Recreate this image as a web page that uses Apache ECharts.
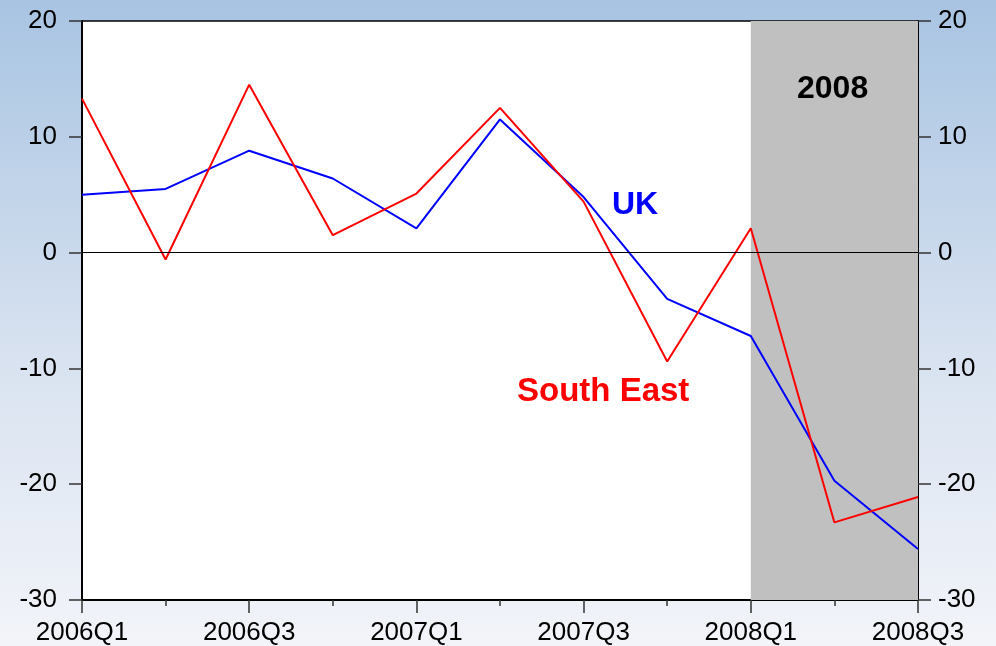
<!DOCTYPE html>
<html>
<head>
<meta charset="utf-8">
<script src="https://cdn.jsdelivr.net/npm/echarts@6/dist/echarts.min.js"></script>
<style>
html,body{margin:0;padding:0;}
#chart{width:996px;height:646px;}
</style>
</head>
<body>
<div id="chart"></div>
<script>
const categories = ['2006Q1','2006Q2','2006Q3','2006Q4','2007Q1','2007Q2','2007Q3','2007Q4','2008Q1','2008Q2','2008Q3'];
const ukValues = [5.0, 5.5, 8.8, 6.4, 2.1, 11.5, 4.8, -4.0, -7.2, -19.7, -25.6];
const southEastValues = [13.3, -0.6, 14.5, 1.5, 5.1, 12.5, 4.4, -9.4, 2.1, -23.3, -21.1];
const shadeStart = '2008Q1';
const shadeEnd = '2008Q3';
const yTicks = { min: -30, max: 20, interval: 10 };

const chart = echarts.init(document.getElementById('chart'), null, { renderer: 'canvas' });
const FONT = 'Liberation Sans, Arial, sans-serif';

const option = {
  backgroundColor: {
    type: 'linear', x: 0, y: 0, x2: 0, y2: 1,
    colorStops: [
      { offset: 0, color: '#a8c4e2' },
      { offset: 0.55, color: '#d8e2f0' },
      { offset: 1, color: '#f2f4f9' }
    ]
  },
  animation: false,
  grid: {
    left: 82, right: 78, top: 21, bottom: 46,
    show: true, backgroundColor: '#ffffff', borderColor: '#000', borderWidth: 1.5
  },
  xAxis: [
    {
      type: 'category', data: categories, boundaryGap: false, position: 'bottom',
      axisLine: { show: true, onZero: false, lineStyle: { color: '#000', width: 2 } },
      axisTick: { show: true, interval: 0, length: 6, lineStyle: { color: '#333', width: 1.5 } },
      axisLabel: { show: false },
      splitLine: { show: false }
    },
    {
      type: 'category', data: categories, boundaryGap: false, position: 'bottom',
      axisLine: { show: false, onZero: false },
      axisTick: { show: true, interval: 1, length: 13, lineStyle: { color: '#333', width: 1.5 } },
      axisLabel: { show: true, interval: 1, color: '#000', fontSize: 26, fontFamily: FONT, margin: 20 },
      splitLine: { show: false }
    }
  ],
  yAxis: [
    {
      type: 'value', position: 'left', min: yTicks.min, max: yTicks.max, interval: yTicks.interval,
      axisLine: { show: true, onZero: false, lineStyle: { color: '#000', width: 2 } },
      axisTick: { show: true, length: 13, lineStyle: { color: '#333', width: 1.5 } },
      axisLabel: { color: '#000', fontSize: 26, fontFamily: FONT, margin: 25 },
      splitLine: { show: false }
    },
    {
      type: 'value', position: 'right', min: yTicks.min, max: yTicks.max, interval: yTicks.interval,
      axisLine: { show: true, onZero: false, lineStyle: { color: '#000', width: 2 } },
      axisTick: { show: true, length: 13, lineStyle: { color: '#333', width: 1.5 } },
      axisLabel: { color: '#000', fontSize: 26, fontFamily: FONT, margin: 20 },
      splitLine: { show: false }
    }
  ],
  series: [
    {
      name: 'shade', type: 'line', data: [], silent: true,
      markArea: {
        silent: true,
        itemStyle: { color: '#c0c0c0' },
        data: [[{ xAxis: shadeStart }, { xAxis: shadeEnd }]]
      },
      markLine: {
        silent: true, symbol: 'none', label: { show: false },
        lineStyle: { color: '#000', width: 1, type: 'solid' },
        data: [{ yAxis: 0 }]
      }
    },
    {
      name: 'UK', type: 'line', data: ukValues, symbol: 'none',
      lineStyle: { color: '#0000ff', width: 2 }, z: 3
    },
    {
      name: 'South East', type: 'line', data: southEastValues, symbol: 'none',
      lineStyle: { color: '#ff0000', width: 2 }, z: 4
    }
  ],
  graphic: [
    { type: 'text', z: 100, left: 797, top: 73, style: { text: '2008', fill: '#000', font: 'bold 32px ' + FONT } },
    { type: 'text', z: 100, left: 612, top: 189, style: { text: 'UK', fill: '#0000ff', font: 'bold 32px ' + FONT } },
    { type: 'text', z: 100, left: 517, top: 375, style: { text: 'South East', fill: '#ff0000', font: 'bold 33px ' + FONT } }
  ]
};
chart.setOption(option);
</script>
</body>
</html>
